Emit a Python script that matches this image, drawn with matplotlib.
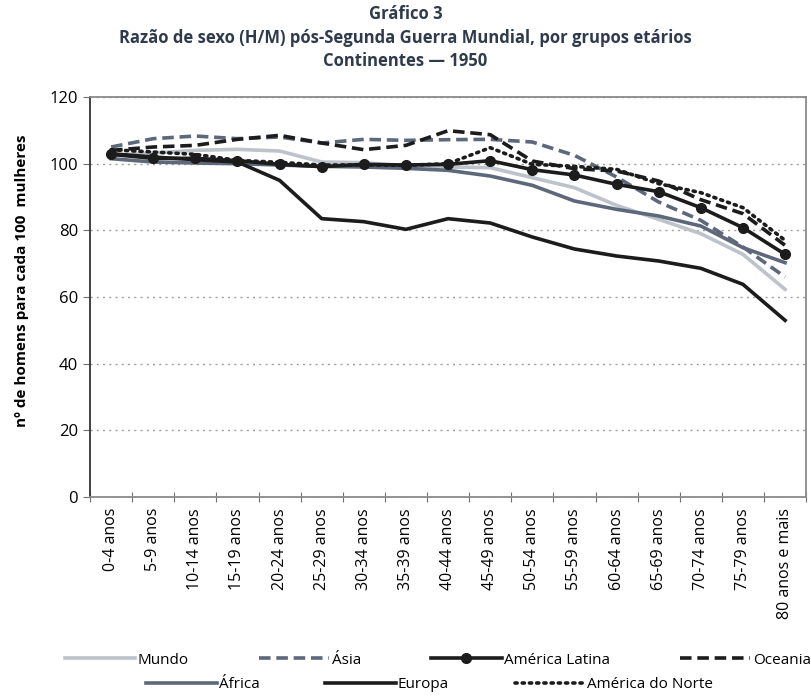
import numpy as np
import matplotlib
matplotlib.use('Agg')
import matplotlib.pyplot as plt

plt.rcParams['font.family'] = ['Open Sans', 'DejaVu Sans']

grupos = ['0-4 anos', '5-9 anos', '10-14 anos', '15-19 anos', '20-24 anos',
          '25-29 anos', '30-34 anos', '35-39 anos', '40-44 anos', '45-49 anos',
          '50-54 anos', '55-59 anos', '60-64 anos', '65-69 anos', '70-74 anos',
          '75-79 anos', '80 anos e mais']

mundo = [102.5, 103.2, 104.0, 104.3, 103.8, 100.5, 100.3, 99.3, 99.0, 98.8,
         95.8, 92.8, 87.5, 83.3, 79.0, 72.8, 62.3]
asia = [105.0, 107.5, 108.3, 107.5, 108.0, 106.2, 107.3, 107.0, 107.2, 107.3,
        106.5, 102.5, 96.0, 88.5, 83.0, 75.0, 66.0]
latina = [102.8, 101.6, 101.6, 100.9, 99.8, 99.1, 99.8, 99.6, 99.8, 100.9,
          98.2, 96.6, 93.8, 91.6, 86.8, 80.8, 72.8]
oceania = [104.0, 105.0, 105.5, 107.3, 108.5, 106.2, 104.2, 105.5, 109.9, 108.7,
           100.8, 98.5, 97.8, 94.8, 89.2, 85.0, 75.5]
africa = [101.5, 100.5, 100.2, 100.0, 99.6, 99.2, 99.0, 98.6, 98.0, 96.3,
          93.5, 88.8, 86.3, 84.3, 81.3, 74.8, 70.3]
europa = [103.0, 102.0, 101.2, 100.5, 95.0, 83.5, 82.6, 80.3, 83.5, 82.2,
          78.0, 74.4, 72.3, 70.8, 68.6, 63.8, 53.0]
norte = [104.2, 103.5, 102.8, 101.0, 100.4, 99.6, 99.6, 99.5, 100.0, 104.8,
         99.8, 99.2, 98.3, 94.0, 91.3, 86.8, 77.0]

x = np.arange(len(grupos))
cinza = '#bec2cb'
ardosia = '#5d687b'
preto = '#1c1c1c'
azul_titulo = '#2f3b4c'

fig = plt.figure(figsize=(8.11, 6.98), dpi=100)
ax = fig.add_axes([0.111, 0.288, 0.883, 0.573])

lw = 2.6
l_mundo, = ax.plot(x, mundo, color=cinza, lw=lw, label='Mundo')
l_africa, = ax.plot(x, africa, color=ardosia, lw=lw, label='África')
l_asia, = ax.plot(x, asia, color=ardosia, lw=lw, dashes=(3.2, 1.6), label='Ásia')
l_europa, = ax.plot(x, europa, color=preto, lw=lw, label='Europa')
l_norte, = ax.plot(x, norte, color=preto, lw=lw, linestyle=(0, (0.6, 1.4)),
                   dash_capstyle='round', label='América do Norte')
l_oceania, = ax.plot(x, oceania, color=preto, lw=lw, dashes=(3.2, 1.6), label='Oceania')
l_latina, = ax.plot(x, latina, color=preto, lw=lw, marker='o', markersize=7,
                    label='América Latina')

ax.set_xlim(-0.5, len(grupos) - 0.5)
ax.set_ylim(0, 120)
ax.set_yticks(np.arange(0, 121, 20))
ax.yaxis.grid(True, linestyle=(0, (1.5, 3)), color='#a0a0a0', lw=1)
ax.set_axisbelow(True)

# ticks between categories, labels centred on them
ax.set_xticks(np.arange(-0.5, len(grupos)), labels=[])
ax.set_xticks(x, labels=grupos, minor=True, rotation=90, fontsize=11.5)
ax.tick_params(axis='x', which='major', direction='inout', length=7, color='#707070')
ax.tick_params(axis='x', which='minor', length=0, pad=8)
ax.tick_params(axis='y', length=5, color='#707070', labelsize=12)

ax.spines['left'].set_color('#333333')
for s in ['top', 'right', 'bottom']:
    ax.spines[s].set_color('#8a8a8a')
for s in ax.spines.values():
    s.set_linewidth(1.3)

ax.set_ylabel('nº de homens para cada 100  mulheres', fontsize=11, fontweight='bold')
ax.yaxis.set_label_coords(-0.085, 0.54)

fig.text(0.5, 0.973, 'Gráfico 3', ha='center', fontsize=12, fontweight='bold', color=azul_titulo)
fig.text(0.5, 0.939, 'Razão de sexo (H/M) pós-Segunda Guerra Mundial, por grupos etários',
         ha='center', fontsize=12, fontweight='bold', color=azul_titulo)
fig.text(0.5, 0.905, 'Continentes — 1950', ha='center', fontsize=12, fontweight='bold', color=azul_titulo)

fig.legend(handles=[l_mundo, l_asia, l_latina, l_oceania], ncol=4,
           loc='center', bbox_to_anchor=(0.54, 0.054), frameon=False,
           fontsize=11, handlelength=4.6, handletextpad=0.15, columnspacing=4.6)
fig.legend(handles=[l_africa, l_europa, l_norte], ncol=3,
           loc='center', bbox_to_anchor=(0.53, 0.019), frameon=False,
           fontsize=11, handlelength=4.6, handletextpad=0.15, columnspacing=4.3)

fig.savefig('out.png', dpi=100)
